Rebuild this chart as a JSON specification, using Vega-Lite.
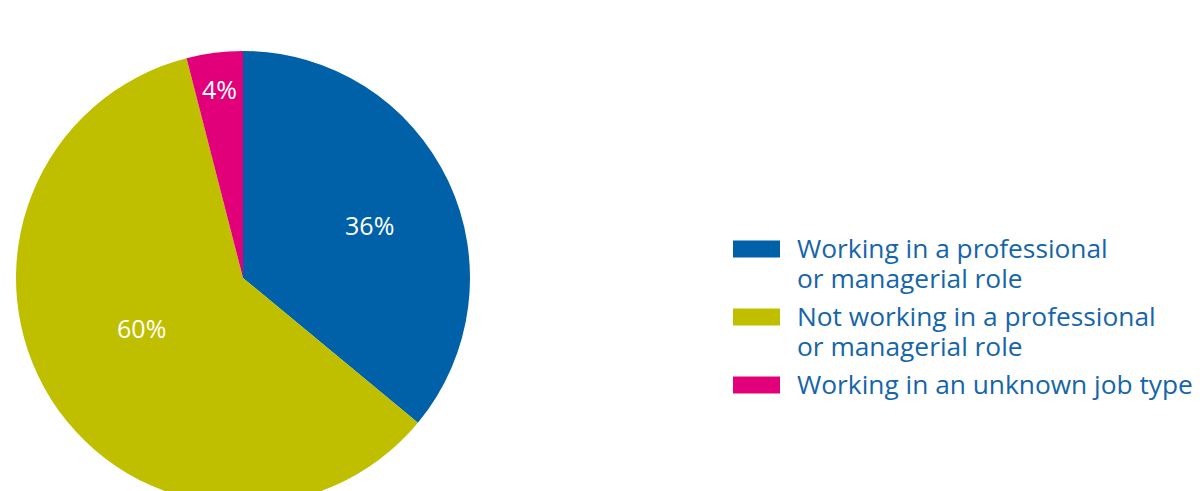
{
  "$schema": "https://vega.github.io/schema/vega-lite/v6.json",
  "width": 486,
  "height": 556,
  "padding": 0,
  "background": "white",
  "config": {"view": {"stroke": null}},
  "data": {
    "values": [
      {"o": 1, "category": "Working in a professional or managerial role", "value": 36, "label": "36%"},
      {"o": 2, "category": "Not working in a professional or managerial role", "value": 60, "label": "60%"},
      {"o": 3, "category": "Working in an unknown job type", "value": 4, "label": "4%"}
    ]
  },
  "encoding": {
    "theta": {"field": "value", "type": "quantitative", "stack": true},
    "order": {"field": "o", "type": "quantitative"}
  },
  "layer": [
    {
      "mark": {"type": "arc", "outerRadius": 227},
      "encoding": {
        "color": {
          "field": "category",
          "type": "nominal",
          "sort": null,
          "scale": {
            "domain": [
              "Working in a professional or managerial role",
              "Not working in a professional or managerial role",
              "Working in an unknown job type"
            ],
            "range": ["#0061a8", "#bfbf00", "#e2007a"]
          },
          "legend": {
            "title": null,
            "orient": "none",
            "legendX": 733,
            "legendY": 234,
            "symbolType": "M-1,-0.724L1,-0.724L1,0L-1,0Z",
            "symbolSize": 2209,
            "symbolStrokeWidth": 0,
            "symbolOpacity": 1,
            "labelFont": "Open Sans",
            "labelFontSize": 26.3,
            "labelBaseline": "alphabetic",
            "labelColor": "#1565a9",
            "labelLimit": 600,
            "labelOffset": 17,
            "rowPadding": 9,
            "labelExpr": "datum.label == 'Working in a professional or managerial role' ? ['Working in a professional', 'or managerial role'] : datum.label == 'Not working in a professional or managerial role' ? ['Not working in a professional', 'or managerial role'] : datum.label",
            "encode": {"labels": {"update": {"lineHeight": {"value": 30}}}}
          }
        }
      }
    },
    {
      "mark": {"type": "text", "radius": 140, "dy": 9, "font": "Open Sans", "fontSize": 25, "fill": "white"},
      "encoding": {
        "text": {"condition": {"test": "datum.o == 1", "field": "label"}, "value": ""}
      }
    },
    {
      "mark": {"type": "text", "radius": 120, "dy": -12, "font": "Open Sans", "fontSize": 25, "fill": "white"},
      "encoding": {
        "text": {"condition": {"test": "datum.o == 2", "field": "label"}, "value": ""}
      }
    },
    {
      "mark": {"type": "text", "radius": 188, "font": "Open Sans", "fontSize": 25, "fill": "white"},
      "encoding": {
        "text": {"condition": {"test": "datum.o == 3", "field": "label"}, "value": ""}
      }
    }
  ]
}
